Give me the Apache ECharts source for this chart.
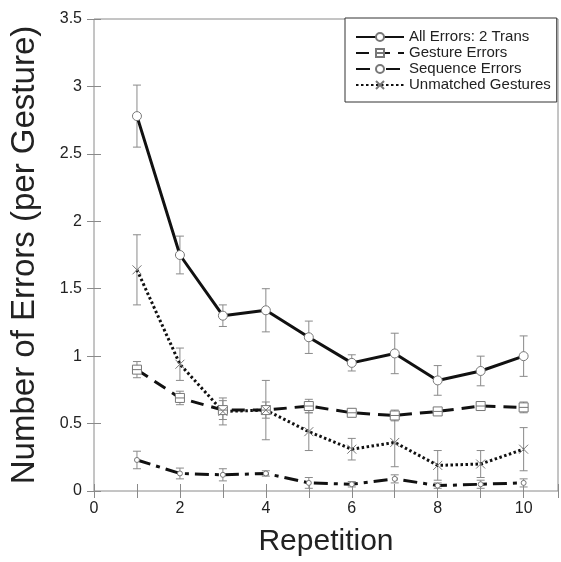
<!DOCTYPE html>
<html>
<head>
<meta charset="utf-8">
<script src="https://cdn.jsdelivr.net/npm/echarts@6/dist/echarts.min.js"></script>
<style>
  html, body { margin: 0; padding: 0; background: #fff; }
  #chart { width: 561px; height: 562px; }
</style>
</head>
<body>
<div id="chart"></div>
<script>
// values
const repetitions = [1, 2, 3, 4, 5, 6, 7, 8, 9, 10];
const allErrors = [2.78, 1.75, 1.30, 1.34, 1.14, 0.95, 1.02, 0.82, 0.89, 1.00];
const allErrorsErr = [0.23, 0.14, 0.08, 0.16, 0.12, 0.06, 0.15, 0.11, 0.11, 0.15];
const gestureErrors = [0.90, 0.69, 0.60, 0.60, 0.63, 0.58, 0.56, 0.59, 0.63, 0.62];
const gestureErrorsErr = [0.06, 0.05, 0.07, 0.06, 0.05, 0.03, 0.04, 0.02, 0.03, 0.04];
const sequenceErrors = [0.23, 0.13, 0.12, 0.13, 0.06, 0.05, 0.09, 0.04, 0.05, 0.06];
const sequenceErrorsErr = [0.065, 0.04, 0.045, 0.02, 0.04, 0.02, 0.03, 0.02, 0.03, 0.03];
const unmatchedGestures = [1.64, 0.94, 0.59, 0.60, 0.44, 0.31, 0.36, 0.19, 0.20, 0.31];
const unmatchedGesturesErr = [0.26, 0.12, 0.10, 0.22, 0.14, 0.08, 0.18, 0.11, 0.10, 0.16];
const xTicks = [0, 2, 4, 6, 8, 10];

const font = "Liberation Sans";
const gray = "#8a8a8a";

function pairs(values) {
  return repetitions.map((r, i) => [r, values[i]]);
}

function errData(values, errs) {
  return repetitions.map((r, i) => [r, values[i] - errs[i], values[i] + errs[i]]);
}

// error bars with small caps
function errorBars(values, errs) {
  return {
    type: "custom",
    z: 1,
    silent: true,
    data: errData(values, errs),
    renderItem(params, api) {
      const lo = api.coord([api.value(0), api.value(1)]);
      const hi = api.coord([api.value(0), api.value(2)]);
      const w = 4;
      const style = { stroke: gray, lineWidth: 1 };
      return {
        type: "group",
        children: [
          { type: "line", shape: { x1: lo[0], y1: lo[1], x2: hi[0], y2: hi[1] }, style },
          { type: "line", shape: { x1: lo[0] - w, y1: lo[1], x2: lo[0] + w, y2: lo[1] }, style },
          { type: "line", shape: { x1: hi[0] - w, y1: hi[1], x2: hi[0] + w, y2: hi[1] }, style },
        ],
      };
    },
  };
}

const markerStyle = { color: "#fff", borderColor: "#777", borderWidth: 1 };

const chart = echarts.init(document.getElementById("chart"));

const option = {
  animation: false,
  grid: {
    left: 92,
    top: 19,
    right: 2,
    bottom: 70,
    show: true,
    borderColor: gray,
    borderWidth: 1,
  },
  legend: {
    orient: "vertical",
    left: 345,
    top: 18,
    align: "left",
    itemWidth: 48,
    itemHeight: 10,
    itemGap: 0,
    padding: [11, 6, 9, 10],
    borderColor: "#333",
    borderWidth: 1,
    backgroundColor: "#fff",
    textStyle: { fontFamily: font, fontSize: 15, lineHeight: 16, color: "#222" },
    data: ["All Errors: 2 Trans", "Gesture Errors", "Sequence Errors", "Unmatched Gestures"],
  },
  xAxis: [
    {
      type: "value",
      min: 0,
      max: 10.8,
      interval: 1,
      axisLine: { show: false },
      axisTick: { inside: true, length: 7, lineStyle: { color: gray } },
      splitLine: { show: false },
      axisLabel: {
        fontFamily: font,
        fontSize: 16,
        color: "#222",
        margin: 10,
        formatter: (v) => (xTicks.includes(v) ? String(v) : ""),
      },
      name: "Repetition",
      nameLocation: "middle",
      nameGap: 36,
      nameTextStyle: { fontFamily: font, fontSize: 30, color: "#222" },
    },
    {
      type: "value",
      position: "top",
      min: 0,
      max: 10.8,
      interval: 1,
      axisLine: { show: false },
      axisTick: { inside: true, length: 7, lineStyle: { color: gray } },
      splitLine: { show: false },
      axisLabel: { show: false },
    },
  ],
  yAxis: [
    {
      type: "value",
      min: 0,
      max: 3.5,
      interval: 0.5,
      axisLine: { show: false },
      axisTick: { inside: true, length: 7, lineStyle: { color: gray } },
      splitLine: { show: false },
      axisLabel: { fontFamily: font, fontSize: 16, color: "#222", margin: 12 },
      name: "Number of Errors (per Gesture)",
      nameLocation: "middle",
      nameGap: 53,
      nameTextStyle: { fontFamily: font, fontSize: 33, color: "#222" },
    },
    {
      type: "value",
      position: "right",
      min: 0,
      max: 3.5,
      interval: 0.5,
      axisLine: { show: false },
      axisTick: { inside: true, length: 7, lineStyle: { color: gray } },
      splitLine: { show: false },
      axisLabel: { show: false },
    },
  ],
  series: [
    errorBars(allErrors, allErrorsErr),
    errorBars(gestureErrors, gestureErrorsErr),
    errorBars(sequenceErrors, sequenceErrorsErr),
    errorBars(unmatchedGestures, unmatchedGesturesErr),
    {
      name: "All Errors: 2 Trans",
      type: "line",
      z: 3,
      data: pairs(allErrors),
      symbol: "circle",
      symbolSize: 9,
      itemStyle: markerStyle,
      lineStyle: { color: "#111", width: 3 },
    },
    {
      name: "Gesture Errors",
      type: "line",
      z: 3,
      data: pairs(gestureErrors),
      symbol: "path://M0,0H10V10H0ZM0,5H10",
      symbolSize: 9,
      itemStyle: markerStyle,
      lineStyle: { color: "#111", width: 3, type: [13, 8] },
    },
    {
      name: "Sequence Errors",
      type: "line",
      z: 3,
      data: pairs(sequenceErrors),
      symbol: "circle",
      symbolSize: 5,
      itemStyle: markerStyle,
      lineStyle: { color: "#111", width: 3, type: [14, 6, 4, 6] },
    },
    {
      name: "Unmatched Gestures",
      type: "line",
      z: 3,
      data: pairs(unmatchedGestures),
      symbol: "path://M0,0L10,10M10,0L0,10",
      symbolSize: 9,
      itemStyle: { color: "none", borderColor: "#777", borderWidth: 1 },
      lineStyle: { color: "#111", width: 3, type: [2.5, 2.5] },
    },
  ],
};

chart.setOption(option);
</script>
</body>
</html>
